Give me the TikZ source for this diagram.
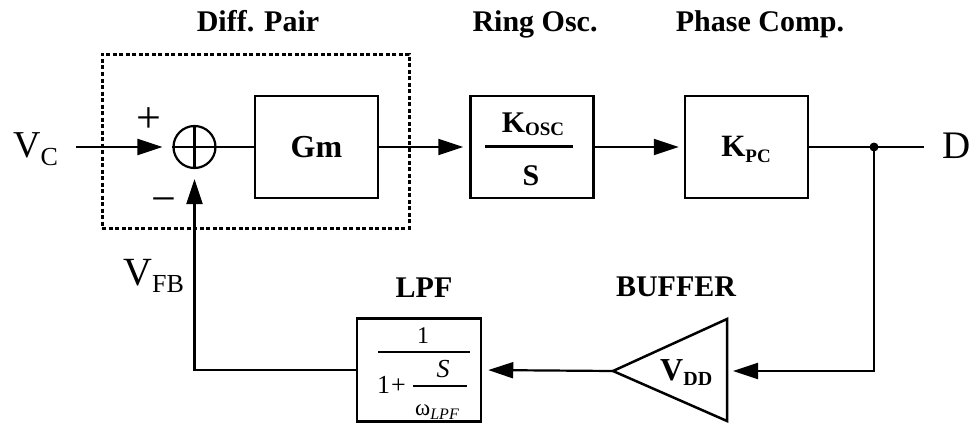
\documentclass[tikz,border=0pt]{standalone}
\usepackage{fontspec}
\setmainfont{Liberation Serif}
\usetikzlibrary{arrows.meta}
\newcommand{\fs}[1]{\fontsize{#1}{#1}\selectfont}
\begin{document}
\begin{tikzpicture}[x=1pt,y=-1pt,
  wire/.style={line width=2.2pt},
  arr/.style={wire,-{Triangle[length=25pt,width=16pt]}},
  blk/.style={draw,line width=2.5pt,minimum width=123pt,minimum height=102pt,inner sep=0},
  lbl/.style={inner sep=0,anchor=base},
  ttl/.style={lbl,font=\fs{30}\bfseries},
  thin/.style={line width=1.2pt}
]
\useasboundingbox (0,0) rectangle (976,423);
% dashed diff pair box
\node[draw,line width=3pt,dash pattern=on 4pt off 2.5pt,minimum width=307pt,minimum height=174pt,inner sep=0] (diff) at (255.5,141) {};
% summing junction
\node[circle,draw,line width=2.2pt,minimum size=42pt,inner sep=0] (sum) at (194.5,147) {};
\draw[wire] (sum.north) -- (sum.south) (sum.west) -- (sum.east);
% blocks
\node[blk] (gm) at (316.5,147) {};
\node[blk] (kosc) at (532,147) {};
\node[blk] (kpc) at (746.5,147) {};
\node[blk,minimum width=124pt,minimum height=103pt] (lpf) at (419,370) {};
% buffer triangle
\coordinate (buftip) at (613,371);
\coordinate (bufin) at (727,371);
\draw[line width=2.5pt,line join=miter] (buftip) -- (727,319) -- (727,421) -- cycle;
% helper coordinates
\coordinate (vcin) at (76,147);
\coordinate (junc) at (874,147);
\coordinate (dout) at (924,147);
% connectors
\draw[arr,shorten >=10pt] (vcin) -- (sum.west);
\draw[wire] (sum.east) -- (gm.west);
\draw[arr,shorten >=6pt] (gm.east) -- (kosc.west);
\draw[arr,shorten >=5pt] (kosc.east) -- (kpc.west);
\draw[wire] (kpc.east) -- (dout);
\fill (junc) circle (4.5pt);
\draw[arr,shorten >=6pt] (junc) |- (bufin);
\draw[arr,shorten >=6pt] (buftip) -- (lpf.east);
\draw[arr,shorten >=10pt] (lpf.west) -| (sum.south);
% titles
\node[ttl] (t1) at (258,31) {Diff. Pair};
\node[ttl] (t2) at (535,31) {Ring Osc.};
\node[ttl] (t3) at (760,31) {Phase Comp.};
\node[ttl] (t4) at (424,297) {LPF};
\node[ttl] (t5) at (676,296) {BUFFER};
% signal labels
\node[lbl,anchor=base west] (vc) at (13,157) {\fs{38}V\raisebox{-8pt}{\fs{26}C}};
\node[lbl,anchor=base west] (vfb) at (123,285) {\fs{40}V\raisebox{-7pt}{\fs{26}FB}};
\node[lbl,anchor=base west] (d) at (942,158) {\fs{39}D};
\node[lbl] (plus) at (148.5,132) {\fs{44}+};
\node[lbl] (minus) at (164,213) {\fs{44}−};
% block contents
\node[lbl] (gmt) at (316.5,157) {\fs{32}\bfseries Gm};
\node[lbl] (kosct) at (533,132) {\fs{30}\bfseries K\raisebox{-3pt}{\fs{19}OSC}};
\draw[wire] (485,146.5) -- (573,146.5);
\node[lbl] (kosc s) at (531,185) {\fs{30}\bfseries S};
\node[lbl] (kpct) at (746,156) {\fs{31}\bfseries K\raisebox{-6pt}{\fs{19}PC}};
\node[lbl,anchor=base west] (vdd) at (660,380) {\fs{32}\bfseries V\raisebox{-5pt}{\fs{20}DD}};
% LPF transfer function
\node[lbl] (one) at (423,343) {\fs{24}1};
\draw[thin] (378,352) -- (470,352);
\node[lbl,anchor=base west] (onep) at (377,393) {\fs{26}1\kern1pt+};
\node[lbl] (lpfs) at (443,377) {\fs{26}\itshape S};
\draw[thin] (413,386) -- (467,386);
\node[lbl,anchor=base west] (omega) at (415,415) {\fs{23}ω\raisebox{-4pt}{\fs{16}\itshape LPF}};
\end{tikzpicture}
\end{document}
